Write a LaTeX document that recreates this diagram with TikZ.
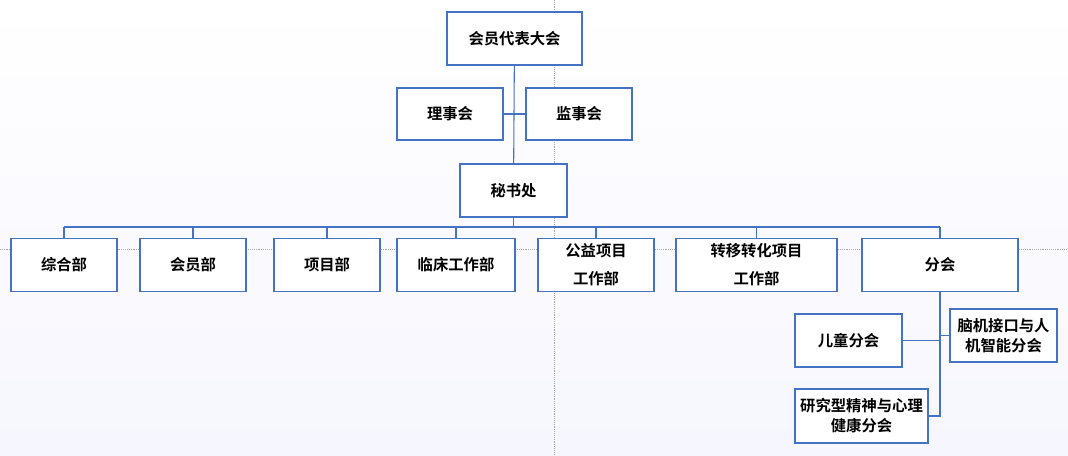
\documentclass[tikz,border=0pt]{standalone}
\usepackage{fontspec}
\setmainfont{Noto Sans CJK SC Bold}
\definecolor{boxblue}{HTML}{4472C4}
\definecolor{bgtop}{HTML}{FFFFFF}
\definecolor{bgbot}{HTML}{F6F6FE}
\begin{document}
\begin{tikzpicture}[x=0.75pt,y=-0.75pt,
    org/.style={draw=boxblue,thick,fill=white,align=center,inner sep=0pt,
      font=\fontsize{11.5}{15}\selectfont},
    link/.style={draw=boxblue,thick},
    guide/.style={gray!70,densely dotted}]
  \shade[top color=bgtop,bottom color=bgbot] (0,0) rectangle (1068,455);
  \useasboundingbox (0,0) rectangle (1068,455);
  \draw[guide] (0,249) -- (1068,249);
  \draw[guide] (554,0) -- (554,455);

  \node[org,minimum width=101.25pt,minimum height=39.75pt] (dh) at (514.5,38.5) {会员代表大会};
  \node[org,minimum width=79.5pt,minimum height=39pt] (ls) at (450,114) {理事会};
  \node[org,minimum width=79.5pt,minimum height=39pt] (js) at (579,114) {监事会};
  \node[org,minimum width=80.25pt,minimum height=39.75pt] (ms) at (513.5,190.5) {秘书处};

  \node[org,minimum width=79.5pt,minimum height=40pt] (zh) at (64,265) {综合部};
  \node[org,minimum width=79.5pt,minimum height=40pt] (hy) at (193,265) {会员部};
  \node[org,minimum width=79.5pt,minimum height=40pt] (xm) at (327,265) {项目部};
  \node[org,minimum width=88.5pt,minimum height=40pt] (lc) at (456,265) {临床工作部};
  \node[org,minimum width=87pt,minimum height=40pt,font=\fontsize{11.5}{21}\selectfont] (gy) at (596,265) {公益项目\\工作部};
  \node[org,minimum width=120.75pt,minimum height=40pt,font=\fontsize{11.5}{21}\selectfont] (zy) at (756.5,265) {转移转化项目\\工作部};
  \node[org,minimum width=117pt,minimum height=40pt] (fh) at (940,265) {分会};

  \node[org,minimum width=80.25pt,minimum height=39.75pt] (et) at (848.5,340.5) {儿童分会};
  \node[org,minimum width=80.25pt,minimum height=39.75pt] (nj) at (1003.5,335.5) {脑机接口与人\\机智能分会};
  \node[org,minimum width=99.75pt,minimum height=40.5pt] (yj) at (861.5,416) {研究型精神与心理\\健康分会};

  \draw[link] (dh) -- (ms);
  \draw[link] (ls.east) -- (js.west);
  \coordinate (busl) at (64,227);
  \coordinate (busr) at (940,227);
  \draw[link] (ms.south) -- (513.5,227);
  \draw[link] (busl) -- (busr);
  \foreach \n/\x in {zh/64,hy/193,xm/327,lc/456,gy/596,zy/756.5,fh/940}
    \draw[link] (\x,227) -- (\n.north);
  \coordinate (fhend) at (940,416);
  \draw[link] (fh.south) -- (fhend) -- (yj.east);
  \draw[link] (et.east) -- (940,340.5);
  \draw[link] (940,335.5) -- (nj.west);
\end{tikzpicture}
\end{document}
